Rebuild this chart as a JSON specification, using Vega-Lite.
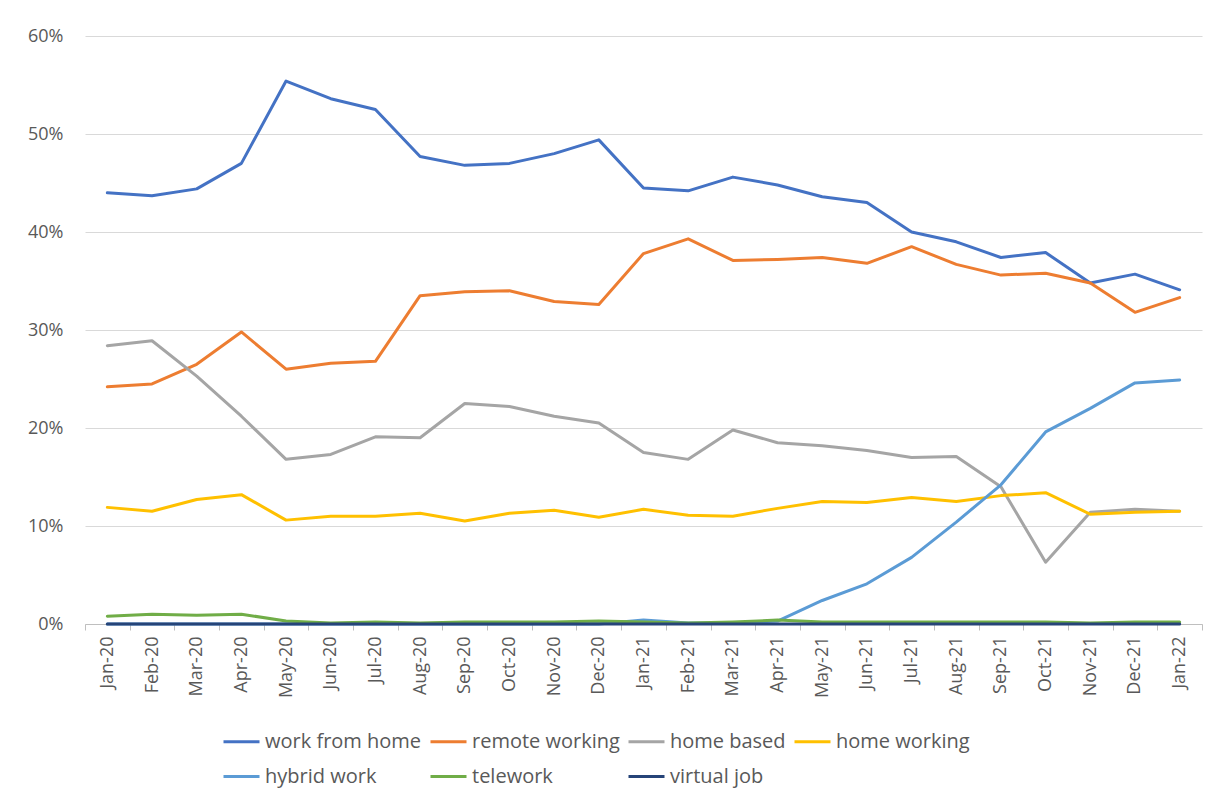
{
  "$schema": "https://vega.github.io/schema/vega-lite/v6.json",
  "width": 1117,
  "height": 588,
  "autosize": {"type": "none"},
  "padding": {"left": 85, "top": 36, "right": 11, "bottom": 172},
  "background": "white",
  "config": {
    "font": "Open Sans",
    "view": {"stroke": null},
    "axis": {"labelColor": "#595959", "titleColor": "#595959"}
  },
  "data": {
    "values": [
      {"month": "Jan-20", "work from home": 44.0, "remote working": 24.2, "home based": 28.4, "home working": 11.9, "hybrid work": 0.0, "telework": 0.8, "virtual job": 0.0},
      {"month": "Feb-20", "work from home": 43.7, "remote working": 24.5, "home based": 28.9, "home working": 11.5, "hybrid work": 0.0, "telework": 1.0, "virtual job": 0.0},
      {"month": "Mar-20", "work from home": 44.4, "remote working": 26.5, "home based": 25.3, "home working": 12.7, "hybrid work": 0.0, "telework": 0.9, "virtual job": 0.0},
      {"month": "Apr-20", "work from home": 47.0, "remote working": 29.8, "home based": 21.2, "home working": 13.2, "hybrid work": 0.0, "telework": 1.0, "virtual job": 0.0},
      {"month": "May-20", "work from home": 55.4, "remote working": 26.0, "home based": 16.8, "home working": 10.6, "hybrid work": 0.0, "telework": 0.3, "virtual job": 0.0},
      {"month": "Jun-20", "work from home": 53.6, "remote working": 26.6, "home based": 17.3, "home working": 11.0, "hybrid work": 0.0, "telework": 0.1, "virtual job": 0.0},
      {"month": "Jul-20", "work from home": 52.5, "remote working": 26.8, "home based": 19.1, "home working": 11.0, "hybrid work": 0.0, "telework": 0.2, "virtual job": 0.0},
      {"month": "Aug-20", "work from home": 47.7, "remote working": 33.5, "home based": 19.0, "home working": 11.3, "hybrid work": 0.0, "telework": 0.1, "virtual job": 0.0},
      {"month": "Sep-20", "work from home": 46.8, "remote working": 33.9, "home based": 22.5, "home working": 10.5, "hybrid work": 0.0, "telework": 0.2, "virtual job": 0.0},
      {"month": "Oct-20", "work from home": 47.0, "remote working": 34.0, "home based": 22.2, "home working": 11.3, "hybrid work": 0.0, "telework": 0.2, "virtual job": 0.0},
      {"month": "Nov-20", "work from home": 48.0, "remote working": 32.9, "home based": 21.2, "home working": 11.6, "hybrid work": 0.0, "telework": 0.2, "virtual job": 0.0},
      {"month": "Dec-20", "work from home": 49.4, "remote working": 32.6, "home based": 20.5, "home working": 10.9, "hybrid work": 0.0, "telework": 0.3, "virtual job": 0.0},
      {"month": "Jan-21", "work from home": 44.5, "remote working": 37.8, "home based": 17.5, "home working": 11.7, "hybrid work": 0.4, "telework": 0.2, "virtual job": 0.0},
      {"month": "Feb-21", "work from home": 44.2, "remote working": 39.3, "home based": 16.8, "home working": 11.1, "hybrid work": 0.1, "telework": 0.1, "virtual job": 0.0},
      {"month": "Mar-21", "work from home": 45.6, "remote working": 37.1, "home based": 19.8, "home working": 11.0, "hybrid work": 0.1, "telework": 0.2, "virtual job": 0.0},
      {"month": "Apr-21", "work from home": 44.8, "remote working": 37.2, "home based": 18.5, "home working": 11.8, "hybrid work": 0.3, "telework": 0.4, "virtual job": 0.0},
      {"month": "May-21", "work from home": 43.6, "remote working": 37.4, "home based": 18.2, "home working": 12.5, "hybrid work": 2.4, "telework": 0.2, "virtual job": 0.0},
      {"month": "Jun-21", "work from home": 43.0, "remote working": 36.8, "home based": 17.7, "home working": 12.4, "hybrid work": 4.1, "telework": 0.2, "virtual job": 0.0},
      {"month": "Jul-21", "work from home": 40.0, "remote working": 38.5, "home based": 17.0, "home working": 12.9, "hybrid work": 6.8, "telework": 0.2, "virtual job": 0.0},
      {"month": "Aug-21", "work from home": 39.0, "remote working": 36.7, "home based": 17.1, "home working": 12.5, "hybrid work": 10.4, "telework": 0.2, "virtual job": 0.0},
      {"month": "Sep-21", "work from home": 37.4, "remote working": 35.6, "home based": 14.0, "home working": 13.1, "hybrid work": 14.2, "telework": 0.2, "virtual job": 0.0},
      {"month": "Oct-21", "work from home": 37.9, "remote working": 35.8, "home based": 6.3, "home working": 13.4, "hybrid work": 19.6, "telework": 0.2, "virtual job": 0.0},
      {"month": "Nov-21", "work from home": 34.8, "remote working": 34.8, "home based": 11.4, "home working": 11.2, "hybrid work": 22.0, "telework": 0.1, "virtual job": 0.0},
      {"month": "Dec-21", "work from home": 35.7, "remote working": 31.8, "home based": 11.7, "home working": 11.4, "hybrid work": 24.6, "telework": 0.2, "virtual job": 0.0},
      {"month": "Jan-22", "work from home": 34.1, "remote working": 33.3, "home based": 11.5, "home working": 11.5, "hybrid work": 24.9, "telework": 0.2, "virtual job": 0.0}
    ]
  },
  "transform": [
    {"fold": ["work from home", "remote working", "home based", "home working", "hybrid work", "telework", "virtual job"], "as": ["series", "value"]}
  ],
  "mark": {"type": "line", "strokeWidth": 3, "strokeCap": "round", "strokeJoin": "round"},
  "encoding": {
    "x": {
      "field": "month", "type": "ordinal", "sort": null,
      "scale": {"type": "band", "paddingInner": 0, "paddingOuter": 0},
      "axis": {
        "title": null, "labelAngle": -90, "labelFontSize": 18, "labelPadding": 6,
        "tickBand": "extent", "tickColor": "#BFBFBF", "tickSize": 6,
        "domainColor": "#BFBFBF", "domainWidth": 1, "grid": false
      }
    },
    "y": {
      "field": "value", "type": "quantitative",
      "scale": {"domain": [0, 60], "nice": false},
      "axis": {
        "title": null, "values": [0, 10, 20, 30, 40, 50, 60],
        "labelExpr": "datum.value + '%'", "labelFontSize": 18, "labelPadding": 22,
        "ticks": false, "domain": false, "gridColor": "#D9D9D9", "gridWidth": 1
      }
    },
    "color": {
      "field": "series", "type": "nominal",
      "scale": {
        "domain": ["work from home", "remote working", "home based", "home working", "hybrid work", "telework", "virtual job"],
        "range": ["#4472C4", "#ED7D31", "#A5A5A5", "#FFC000", "#5B9BD5", "#70AD47", "#264478"]
      },
      "legend": {
        "title": null, "orient": "none", "legendX": 137, "legendY": 686,
        "direction": "horizontal", "columns": 4, "gridAlign": "each",
        "symbolType": "stroke", "symbolStrokeWidth": 3, "symbolSize": 1296,
        "labelFontSize": 20, "labelColor": "#595959", "labelOffset": 4,
        "columnPadding": 2, "rowPadding": 5, "labelLimit": 250
      }
    }
  }
}
